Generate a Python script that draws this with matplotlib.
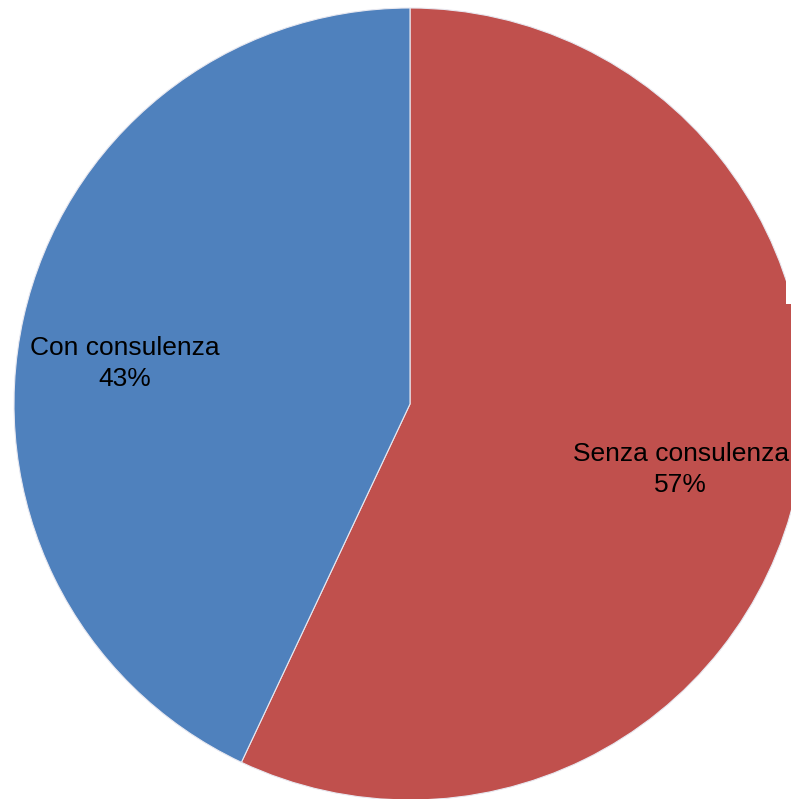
#!/usr/bin/env python3
"""Pie chart: share of cases with and without consultancy."""
import matplotlib
matplotlib.use("Agg")
import matplotlib.pyplot as plt
from matplotlib.patches import Rectangle

# ── Data ─────────────────────────────────────────────────────────────────────
categories = ["Senza consulenza", "Con consulenza"]
shares = [57, 43]

# ── Style ────────────────────────────────────────────────────────────────────
COLORS = ["#C0504D", "#4F81BD"]
plt.rcParams["font.family"] = ["Liberation Sans", "DejaVu Sans"]

W, H, DPI = 791, 799, 100
CX, CY, R = 410, 404, 396          # pie centre / radius in pixels

fig = plt.figure(figsize=(W / DPI, H / DPI), dpi=DPI)
ax = fig.add_axes([(CX - R) / W, (H - CY - R) / H, 2 * R / W, 2 * R / H])
ax.axis("off")

wedges, _ = ax.pie(shares, colors=COLORS, startangle=90, counterclock=False,
                   radius=1, center=(0, 0), frame=False,
                   wedgeprops=dict(edgecolor="#e8e8f0", linewidth=0.8))
ax.set_xlim(-1, 1)
ax.set_ylim(-1, 1)
ax.set_aspect("auto")

# Labels: category name with its percentage underneath
label_pos = {"Senza consulenza": (0.684, -0.165), "Con consulenza": (-0.72, 0.102)}
for name, val in zip(categories, shares):
    x, y = label_pos[name]
    ax.text(x, y, f"{name}\n{val}%", ha="center", va="center",
            fontsize=19, color="black", linespacing=1.38)

# Small blank strip on the upper right edge
fig.patches.append(Rectangle((786 / W, (H - 304) / H), 1, 1,
                             transform=fig.transFigure, facecolor="white",
                             edgecolor="none", zorder=10))

fig.savefig("out.png", dpi=DPI)
